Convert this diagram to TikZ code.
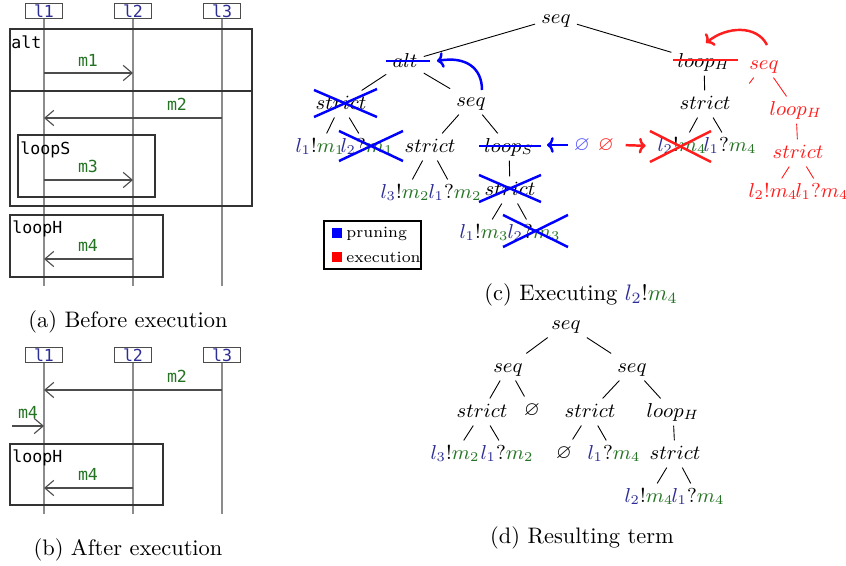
\documentclass[tikz,border=0pt]{standalone}
\usepackage{amssymb}
\usepackage{fontspec}
\newfontfamily\seqfont{DejaVu Sans Mono}
\usetikzlibrary{arrows.meta}
\definecolor{lb}{RGB}{45,45,150}
\definecolor{mg}{RGB}{35,115,35}
\definecolor{exred}{RGB}{255,30,30}
\definecolor{prblue}{RGB}{0,0,255}
\definecolor{lgblue}{RGB}{80,80,255}
\newcommand{\myL}[1]{\textcolor{lb}{l_{#1}}}
\newcommand{\myM}[1]{\textcolor{mg}{m_{#1}}}
\begin{document}
\begin{tikzpicture}[x=0.446pt,y=-0.446pt,
  tn/.style={font=\small, inner xsep=2.6pt, inner ysep=1.6pt, text height=6.5pt, text depth=2pt},
  te/.style={draw=black, line width=0.4pt},
  rte/.style={draw=exred, line width=0.4pt},
  prune/.style={draw=prblue, line width=1.1pt},
  exe/.style={draw=exred, line width=1.1pt},
  seqf/.style={font=\seqfont\fontsize{7.4}{9}\selectfont},
  hdr/.style={seqf, draw=black!70, text=lb, minimum width=16.5pt, minimum height=7.1pt, inner sep=0pt, line width=0.45pt},
  life/.style={draw=black!45, line width=0.65pt},
  frm/.style={draw=black!80, line width=0.45pt},
  msg/.style={draw=black!70, line width=0.5pt, -{Straight Barb[length=4pt,width=6.8pt]}},
  mlbl/.style={seqf, text=mg, anchor=base, inner sep=0pt},
  flbl/.style={seqf, anchor=base west, inner sep=0pt},
  captxt/.style={font=\normalsize, inner sep=0pt}
]
\useasboundingbox (0,0) rectangle (846,566);

% ---------------- (a) Before execution ----------------
\node[hdr] (a1) at (44,11) {l1};
\node[hdr] (a2) at (133,11) {l2};
\node[hdr] (a3) at (222,11) {l3};
\coordinate (a1e) at (44,286);
\coordinate (a2e) at (133,286);
\coordinate (a3e) at (222,286);
\draw[life] (a1) -- (a1e);
\draw[life] (a2) -- (a2e);
\draw[life] (a3) -- (a3e);
\draw[frm] (10,29) rectangle (252,206);
\draw[frm] (10,91) -- (252,91);
\node[flbl] (altl) at (11,49) {alt};
\draw[frm] (18,135) rectangle (155,197);
\node[flbl] (lsl) at (20,155) {loopS};
\draw[frm] (10,215) rectangle (163,277);
\node[flbl] (lhl) at (12,234) {loopH};
\coordinate (m1s) at (44,73); \coordinate (m1e) at (133,73);
\draw[msg] (m1s) -- (m1e);
\node[mlbl] (m1l) at (88,67) {m1};
\coordinate (m2s) at (222,118); \coordinate (m2e) at (44,118);
\draw[msg] (m2s) -- (m2e);
\node[mlbl] (m2l) at (177,111) {m2};
\coordinate (m3s) at (44,180); \coordinate (m3e) at (133,180);
\draw[msg] (m3s) -- (m3e);
\node[mlbl] (m3l) at (88,173) {m3};
\coordinate (m4s) at (133,259); \coordinate (m4e) at (44,259);
\draw[msg] (m4s) -- (m4e);
\node[mlbl] (m4l) at (88,252) {m4};
\node[captxt] (capa) at (128,322) {(a) Before execution};

% ---------------- (b) After execution ----------------
\node[hdr] (b1) at (44,355) {l1};
\node[hdr] (b2) at (133,355) {l2};
\node[hdr] (b3) at (222,355) {l3};
\coordinate (b1e) at (44,514);
\coordinate (b2e) at (133,514);
\coordinate (b3e) at (222,514);
\draw[life] (b1) -- (b1e);
\draw[life] (b2) -- (b2e);
\draw[life] (b3) -- (b3e);
\coordinate (n2s) at (222,390); \coordinate (n2e) at (44,390);
\draw[msg] (n2s) -- (n2e);
\node[mlbl] (n2l) at (177,383) {m2};
\coordinate (n4s) at (12,426); \coordinate (n4e) at (44,426);
\draw[msg] (n4s) -- (n4e);
\node[mlbl] (n4l) at (28,419) {m4};
\draw[frm] (10,444) rectangle (163,505);
\node[flbl] (blhl) at (12,463) {loopH};
\coordinate (n5s) at (133,488); \coordinate (n5e) at (44,488);
\draw[msg] (n5s) -- (n5e);
\node[mlbl] (n5l) at (88,481) {m4};
\node[captxt] (capb) at (128,550) {(b) After execution};

% ---------------- (c) Executing ----------------
\node[tn] (c0) at (556,18) {$seq$};
\node[tn] (calt) at (405,62) {$alt$};
\node[tn] (cst1) at (341,104) {$strict$};
\node[tn] (cseq) at (471,101) {$seq$};
\node[tn] (c11) at (320,147) {$\myL1!\myM1$};
\node[tn] (c12) at (367,147) {$\myL2?\myM1$};
\node[tn] (cst2) at (430,147) {$strict$};
\node[tn] (cls) at (509,147) {$loop_S$};
\node[tn] (c21) at (405,193) {$\myL3!\myM2$};
\node[tn] (c22) at (455,193) {$\myL1?\myM2$};
\node[tn] (cst3) at (510,190) {$strict$};
\node[tn] (c31) at (484,233) {$\myL1!\myM3$};
\node[tn] (c32) at (534,233) {$\myL2?\myM3$};
\node[tn] (clh) at (704,62) {$loop_H$};
\node[tn] (cst4) at (705,104) {$strict$};
\node[tn] (c41) at (682,146) {$\myL2!\myM4$};
\node[tn] (c42) at (730,146) {$\myL1?\myM4$};
\node[tn, text=exred] (rseq) at (764,64) {$seq$};
\node[tn, text=exred] (rlh) at (796,110) {$loop_H$};
\node[tn, text=exred] (rst) at (798,153) {$strict$};
\node[tn, text=exred] (r1) at (773,192) {$l_2!m_4$};
\node[tn, text=exred] (r2) at (822,192) {$l_1?m_4$};
\node[tn, text=lgblue] (eb) at (582,145) {$\varnothing$};
\node[tn, text=exred] (er) at (606,145) {$\varnothing$};

\draw[te] (c0) -- (calt);
\draw[te] (c0) -- (clh);
\draw[te] (calt) -- (cst1);
\draw[te] (calt) -- (cseq);
\draw[te] (cst1) -- (c11);
\draw[te] (cst1) -- (c12);
\draw[te] (cseq) -- (cst2);
\draw[te] (cseq) -- (cls);
\draw[te] (cst2) -- (c21);
\draw[te] (cst2) -- (c22);
\draw[te] (cls) -- (cst3);
\draw[te] (cst3) -- (c31);
\draw[te] (cst3) -- (c32);
\draw[te] (clh) -- (cst4);
\draw[te] (cst4) -- (c41);
\draw[te] (cst4) -- (c42);
\coordinate (rsl) at (733,105);
\draw[rte, shorten >=12pt] (rseq) -- (rsl);
\draw[rte] (rseq) -- (rlh);
\draw[rte] (rlh) -- (rst);
\draw[rte] (rst) -- (r1);
\draw[rte] (rst) -- (r2);

% pruning marks
\draw[prune] (386,61) -- (430,61);
\draw[prune] (314,90) -- (377,117);
\draw[prune] (314,117) -- (377,89);
\draw[prune] (339,131) -- (403,161);
\draw[prune] (339,161) -- (403,131);
\draw[prune] (479,146) -- (541,146);
\draw[prune] (479,175) -- (541,202);
\draw[prune] (479,202) -- (541,175);
\draw[prune] (503,215) -- (568,247);
\draw[prune] (503,247) -- (568,215);
% execution marks
\draw[exe] (673,60) -- (738,60);
\draw[exe] (650,131) -- (711,162);
\draw[exe] (650,162) -- (711,131);

% arrows
\coordinate (bA) at (482,90);
\coordinate (bB) at (437,61);
\draw[prune, -{To[length=3pt,width=7pt]}] (bA) .. controls (482,68) and (466,56) .. (bB);
\coordinate (bC) at (547,145);
\draw[prune, -{To[length=3pt,width=7pt]}] (eb.west) -- (bC);
\draw[exe, shorten <=2.5pt, shorten >=2.5pt, -{To[length=3pt,width=7pt]}] (er.east) -- (c41.west);
\coordinate (rA) at (767,45);
\coordinate (rB) at (706,43);
\draw[exe, -{To[length=3pt,width=7pt]}] (rA) .. controls (757,25) and (727,26) .. (rB);

% legend
\node[draw=black, line width=0.5pt, minimum width=43.3pt, minimum height=21.4pt, inner sep=0pt] (leg) at (372.5,245) {};
\node[fill=prblue, minimum size=4.4pt, inner sep=0pt] (legb) at (337,233) {};
\node[font=\scriptsize, anchor=west, inner sep=0pt] (legbt) at (346,234) {pruning};
\node[fill=red, minimum size=4.4pt, inner sep=0pt] (legr) at (337,257) {};
\node[font=\scriptsize, anchor=west, inner sep=0pt] (legrt) at (346,257) {execution};

\node[captxt] (capc) at (581,295) {(c) Executing $\textcolor{lb}{l_2}!\textcolor{mg}{m_4}$};

% ---------------- (d) Resulting term ----------------
\node[tn] (d0) at (566,324) {$seq$};
\node[tn] (dl) at (508,367) {$seq$};
\node[tn] (dr) at (632,367) {$seq$};
\node[tn] (ds1) at (482,412) {$strict$};
\node[tn] (de1) at (532,410) {$\varnothing$};
\node[tn] (ds2) at (590,412) {$strict$};
\node[tn] (dlh) at (673,412) {$loop_H$};
\node[tn] (d11) at (455,454) {$\myL3!\myM2$};
\node[tn] (d12) at (507,454) {$\myL1?\myM2$};
\node[tn] (de2) at (564,453) {$\varnothing$};
\node[tn] (d22) at (614,454) {$\myL1?\myM4$};
\node[tn] (ds3) at (675,454) {$strict$};
\node[tn] (d31) at (649,497) {$\myL2!\myM4$};
\node[tn] (d32) at (698,497) {$\myL1?\myM4$};
\draw[te] (d0) -- (dl);
\draw[te] (d0) -- (dr);
\draw[te] (dl) -- (ds1);
\draw[te] (dl) -- (de1);
\draw[te] (dr) -- (ds2);
\draw[te] (dr) -- (dlh);
\draw[te] (ds1) -- (d11);
\draw[te] (ds1) -- (d12);
\draw[te] (ds2) -- (de2);
\draw[te] (ds2) -- (d22);
\draw[te] (dlh) -- (ds3);
\draw[te] (ds3) -- (d31);
\draw[te] (ds3) -- (d32);
\node[captxt] (capd) at (582,538) {(d) Resulting term};
\end{tikzpicture}
\end{document}
